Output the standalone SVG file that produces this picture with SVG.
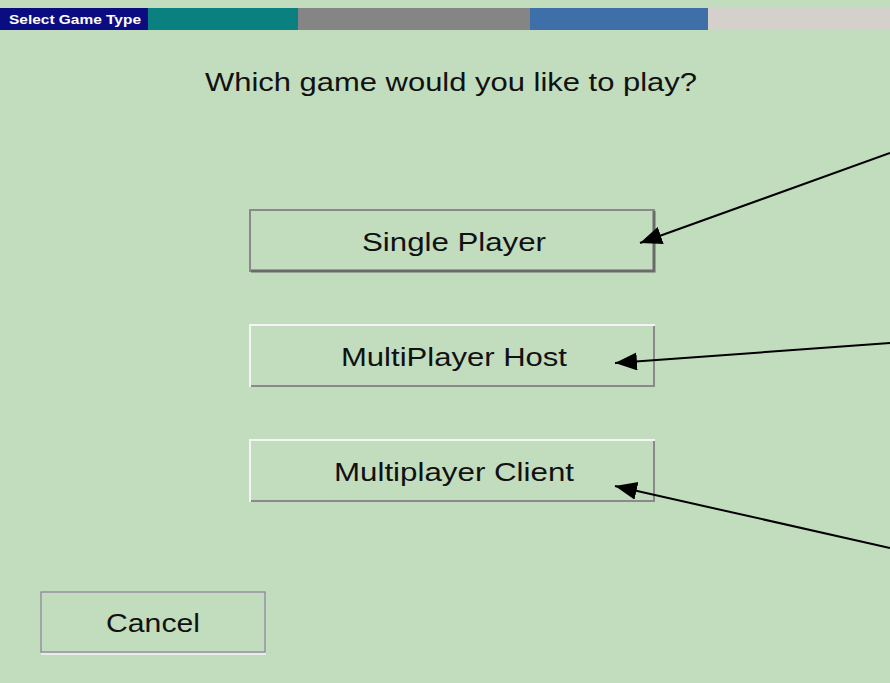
<svg xmlns="http://www.w3.org/2000/svg" width="890" height="683" viewBox="0 0 890 683">
<style>
.lbl{font-family:"Liberation Sans",Arial,sans-serif;font-size:26px;fill:#111;text-anchor:middle}
.btn{fill:#c2dcbe}
.conn{stroke:#000;stroke-width:2;fill:none}
</style>
<defs>
<marker id="ah" markerUnits="userSpaceOnUse" markerWidth="24" markerHeight="20" refX="22" refY="9" orient="auto">
<path d="M0,0 L22,9 L0,18 z" fill="#000"/>
</marker>
</defs>
<rect x="0" y="0" width="890" height="683" fill="#c2dcbe"/>
<g id="titlebar">
<rect x="0" y="8" width="148" height="22" fill="#0c0c82"/>
<rect x="148" y="8" width="150" height="22" fill="#0b8080"/>
<rect x="298" y="8" width="232" height="22" fill="#858585"/>
<rect x="530" y="8" width="178" height="22" fill="#3f6fa8"/>
<rect x="708" y="8" width="182" height="22" fill="#d6d0cc"/>
<text x="9" y="24" font-family="'Liberation Sans',Arial,sans-serif" font-size="13" font-weight="bold" fill="#fff" textLength="132" lengthAdjust="spacingAndGlyphs">Select Game Type</text>
</g>
<g id="question">
<text class="lbl" x="451" y="91" textLength="492" lengthAdjust="spacingAndGlyphs">Which game would you like to play?</text>
</g>
<g id="single">
<rect class="btn" x="250" y="210" width="405" height="62"/>
<path d="M250,272 V210 H655" stroke="#8a8a8a" stroke-width="2" fill="none"/>
<path d="M251,271 H654 V211" stroke="#6a6a6a" stroke-width="3" fill="none"/>
<text class="lbl" x="454" y="251" textLength="184" lengthAdjust="spacingAndGlyphs">Single Player</text>
</g>
<g id="host">
<rect class="btn" x="250" y="325" width="405" height="62"/>
<path d="M250,387 V325 H655" stroke="#f4f4f4" stroke-width="2" fill="none"/>
<path d="M251,386 H654 V326" stroke="#8a8a8a" stroke-width="2" fill="none"/>
<text class="lbl" x="454" y="366" textLength="226" lengthAdjust="spacingAndGlyphs">MultiPlayer Host</text>
</g>
<g id="client">
<rect class="btn" x="250" y="440" width="405" height="62"/>
<path d="M250,502 V440 H655" stroke="#f4f4f4" stroke-width="2" fill="none"/>
<path d="M251,501 H654 V441" stroke="#8a8a8a" stroke-width="2" fill="none"/>
<text class="lbl" x="454" y="481" textLength="240" lengthAdjust="spacingAndGlyphs">Multiplayer Client</text>
</g>
<g id="cancel">
<rect x="41" y="592" width="224" height="60" fill="#c2dcbe" stroke="#8a7f9a" stroke-width="1.2"/>
<line x1="41" y1="654" x2="266" y2="654" stroke="#f4f4f4" stroke-width="1.5"/>
<text class="lbl" x="153" y="632" textLength="94" lengthAdjust="spacingAndGlyphs">Cancel</text>
</g>
<g id="connectors">
<line class="conn" x1="890" y1="153" x2="640" y2="243" marker-end="url(#ah)"/>
<line class="conn" x1="890" y1="343" x2="615" y2="363" marker-end="url(#ah)"/>
<line class="conn" x1="890" y1="548" x2="615" y2="486" marker-end="url(#ah)"/>
</g>
</svg>
